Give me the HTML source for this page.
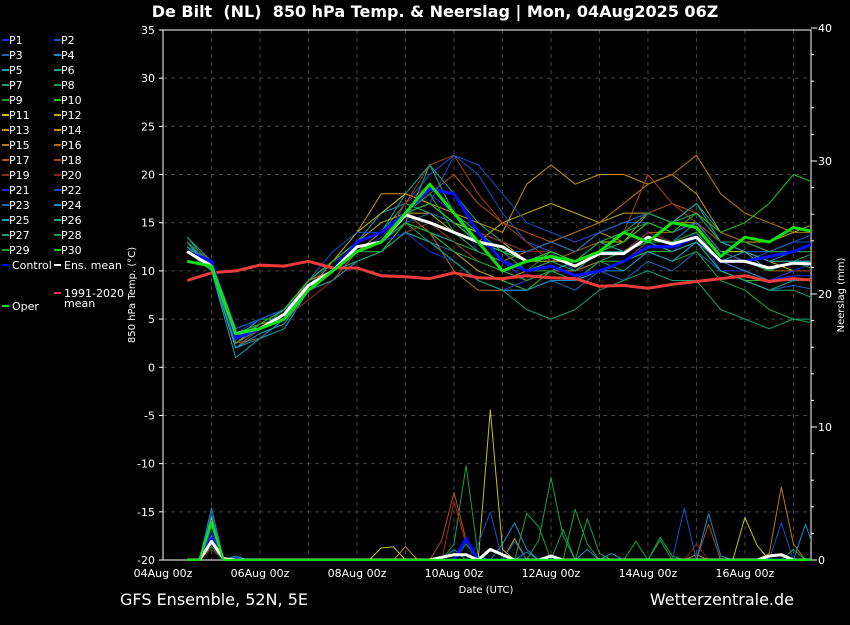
<!DOCTYPE html>
<html><head><meta charset="utf-8"><style>
body{margin:0;background:#000;width:850px;height:620px;overflow:hidden;font-family:"Liberation Sans","DejaVu Sans",sans-serif;}
svg text{font-family:"DejaVu Sans","Liberation Sans",sans-serif;fill:#fff;}
</style></head><body>
<svg id="chart" width="850" height="620" xmlns="http://www.w3.org/2000/svg">
<rect width="850" height="620" fill="#000"/>
<text x="435" y="17" text-anchor="middle" font-size="16" font-weight="bold" xml:space="preserve">De Bilt  (NL)  850 hPa Temp. &amp; Neerslag | Mon, 04Aug2025 06Z</text>
<g id="grid"></g>
<g id="axes"></g>
<g id="series" clip-path="url(#clip)"></g>
<defs><clipPath id="clip"><rect x="163" y="30" width="648" height="531"/></clipPath></defs>
<g id="legend"></g>
<text x="0" y="0" transform="translate(135,295) rotate(-90)" text-anchor="middle" font-size="10">850 hPa Temp. (°C)</text>
<text x="0" y="0" transform="translate(844,295) rotate(-90)" text-anchor="middle" font-size="10">Neerslag (mm)</text>
<text x="486" y="593" text-anchor="middle" font-size="10">Date (UTC)</text>
<text x="120" y="605" font-size="16">GFS Ensemble, 52N, 5E</text>
<text x="794" y="605" text-anchor="end" font-size="16">Wetterzentrale.de</text>
</svg>
<script>
// ---- data ----
const tempHours=[12,24,36,48,60,72,84,96,108,120,132,144,156,168,180,192,204,216,228,240,252,264,276,288,300,312,324];
const xTickLabels=["04Aug 00z","06Aug 00z","08Aug 00z","10Aug 00z","12Aug 00z","14Aug 00z","16Aug 00z"];
const xTickHours=[0,48,96,144,192,240,288];
const yTicks=[35,30,25,20,15,10,5,0,-5,-10,-15,-20];
const y2Ticks=[0,10,20,30,40];
const memberNames=["P1","P2","P3","P4","P5","P6","P7","P8","P9","P10","P11","P12","P13","P14","P15","P16","P17","P18","P19","P20","P21","P22","P23","P24","P25","P26","P27","P28","P29","P30"];
const memberColors=["#1a2ee0","#1450c8","#1468c0","#1490c8","#14a8b8","#14a890","#14a070","#14a050","#14a830","#20c020","#c8c010","#c0a810","#c09810","#c08810","#c07810","#b86810","#b05018","#a84018","#982818","#902020","#1a2ee0","#1450c8","#1468c0","#1490c8","#14a8b8","#14a890","#14a070","#14a050","#14a830","#20c020"];
const P1=[12.5,10,3,4.5,5,8,10,12,13.5,16,18,16,12,11,9,10,9,10,11,13,12,14,10,10,9,9.5,9.5];
const P2=[12,10.8,4,5,6,8.5,11,13,14,17,20,22,20,16,13,12,10,12,13,15,14,15,12,11,12,13,14];
const P3=[13,10,2.5,4,5,9,10,12,12,14,13,12,10,9,8,9,8,10,9,11,10,12,10,9,8,8.5,8];
const P4=[12.5,11,4,5,6,9,11,13,16,17,16,14,13,12,11,12,11,12,12,14,13,15,12,12,11,12,12];
const P5=[13,10,1,3,4,8,10,11,12,15,14,13,11,10,9,10,11,13,12,14,13,14,11,12,10,11,11];
const P6=[13.5,10.5,3,5,6,9,10,12,14,18,21,18,15,13,12,13,12,14,15,16,15,17,14,13,12,13,13];
const P7=[13,11,2,4,5,8,10,12,13,15,13,11,9,8,8,9,9,10,11,12,11,13,10,9,8,8,7];
const P8=[12.5,10.2,3,4,6,9,10,13,14,17,16,15,14,13,12,13,12,13,14,15,14,15,12,12,11,11,12];
const P9=[12,10,3,4,5,8,9,12,12,14,15,13,12,11,10,10,9,11,10,12,11,12,9,8,6,5,4.5];
const P10=[12.5,11,4,5,5,8,9,11,12,15,14,12,10,9,8,10,10,11,11,12,12,13,10,9,9,9,9];
const P11=[12,10.5,3,4,6,9,11,14,16,18,17,15,14,13,11,11,11,13,13,15,14,15,12,12,11,10,10];
const P12=[12.5,10,3,4,6,9,10,13,15,16,16,14,13,15,16,17,16,15,16,16,15,15,13,13,13,14,15];
const P13=[13,11,2.5,4,5,8,11,14,18,18,17,16,15,14,19,21,19,20,20,19,20,18,14,13,12,13,13];
const P14=[12,10,3,4,6,9,10,12,13,15,14,12,10,9,10,11,12,14,13,16,15,16,13,13,12,12,13];
const P15=[12.5,10.5,2.5,4.5,5,8,10,12,14,16,15,14,12,11,12,13,14,15,17,19,20,22,18,16,15,14,14];
const P16=[12,10.5,3,4,5.5,9,10,12,13,16,14,10,8,8,9,10,10,11,12,14,14,15,12,11,10,10,10];
const P17=[12.5,10,2.5,3,5,8,10,12,13,16,18,20,17,15,14,13,12,14,15,16,17,16,14,13,12,12,12];
const P18=[13,10.5,2,4,5.5,8,9,12,13,17,21,22,18,15,13,11,12,13,14,20,17,15,13,12,11,11,11];
const P19=[12.5,10.5,3,4,5,7,9,11,12,14,15,13,11,10,9,10,9,10,11,13,12,13,11,10,9,10,10];
const P20=[13,11,3,4,5,8,10,12,13,17,19,16,14,13,12,12,11,12,12,14,13,14,12,11,10,11,10];
const P21=[12,10.5,3.5,5,6,9,11,12,13,14,12,11,9,8,9,10,9,11,12,13,12,13,11,10,9,10,11];
const P22=[12.5,11,4,5,6,9,12,14,14,16,17,22,21,18,15,14,13,14,15,16,15,16,13,12,12,13,13];
const P23=[13,10,3,4,6,8,10,12,13,15,16,15,13,12,12,13,12,14,15,15,14,15,12,11,10,11,11];
const P24=[12.5,10,2,3,5,8,9,11,12,14,13,11,9,8,8,9,9,10,10,12,11,13,11,10,9,9,9];
const P25=[13,10,2,3.5,4.5,8,10,12,13,16,17,15,13,12,11,12,11,13,14,16,15,17,13,12,11,11,11];
const P26=[13.5,11,3,4,5,8,10,12,13,15,21,16,14,12,10,11,10,12,12,13,12,13,10,9,8,9,9];
const P27=[13,10.5,2.5,4,5,8,10,11,12,14,13,11,9,8,6,5,6,8,9,10,9,9,6,5,4,5,5];
const P28=[12.5,10.5,3,4.5,6,9,11,13,14,16,18,14,12,11,10,12,11,13,14,16,15,16,13,13,12,12,12];
const P29=[12,10,3,4,5,8,10,12,13,15,14,12,11,10,9,10,9,11,12,13,13,14,11,11,10,11,10];
const P30=[12,10.5,3.5,4.5,6,9,11,13,14,16,17,15,13,12,11,12,11,12,13,15,14,16,14,15,17,20,19];
const members=[P1,P2,P3,P4,P5,P6,P7,P8,P9,P10,P11,P12,P13,P14,P15,P16,P17,P18,P19,P20,P21,P22,P23,P24,P25,P26,P27,P28,P29,P30];
const controlTemp=[12,11,3,4,5,8.5,10,13,14,16,18.5,18,14,11,10,10.5,9.5,10,11,12.5,12.5,13.5,11,11,11.5,12,13];
const operTemp=[11,10.5,3.5,4,5,8,10,12,13,16,19,16,13,10,11,11.5,11,12,14,13,15,14.5,11.5,13.5,13,14.5,14];
const meanTemp=[12,10.5,3.5,4,5.5,8.5,10,12.5,13,15.8,15,14,13,12.5,11,11.5,10.5,11.8,11.8,13.5,12.8,13.5,11,11,10.3,10.8,10.7];
const climTemp=[9,9.8,10,10.6,10.5,11,10.3,10.3,9.5,9.4,9.2,9.8,9.3,9.2,9.5,9.3,9.2,8.4,8.5,8.2,8.6,8.9,9.2,9.5,8.9,9.2,9];
// precipitation: [hour, mm] pairs (zero elsewhere, 6-hourly)
const precipP1=[[24,2.2],[36,0.2]];
const precipP4=[[24,3.9],[36,0.3],[168,1.2],[174,2.8],[180,0.8]];
const precipP8=[[24,1.5],[144,1.2],[150,7.1],[156,0.3],[186,1.5],[192,6.2],[198,1.8]];
const precipP9=[[24,2.6],[180,3.5],[186,2.5],[204,3.8],[210,1.2],[234,1.4],[246,1.5]];
const precipP11=[[24,3.2],[108,0.9],[114,1.0],[162,11.3],[168,0.8],[288,3.2],[294,1.1]];
const precipP13=[[24,2.8],[120,1.0],[174,1.6]];
const precipP15=[[24,1.8],[264,0.4],[300,0.5],[306,5.5],[312,1.2]];
const precipP17=[[24,1.2],[138,1.5],[144,5.1],[150,1.5],[270,2.7]];
const precipP19=[[24,0.8],[144,4.4],[150,1.2],[264,1.2]];
const precipP22=[[24,1.9],[156,1.2],[162,3.6],[174,1.4],[258,3.9],[306,2.8]];
const precipP24=[[24,3.4],[144,0.8],[180,0.6],[210,0.8],[222,0.5],[270,3.5],[276,0.3],[318,2.7]];
const precipP28=[[24,1.0],[150,1.2],[198,2.3],[210,3.1],[216,0.5],[246,1.7],[252,0.3],[312,0.8]];
const precipControl=[[24,1.6],[150,1.6]];
const precipOper=[[24,2.8]];
const precipMean=[[24,1.4],[30,0.1],[138,0.2],[144,0.4],[150,0.4],[162,0.8],[168,0.4],[192,0.3],[300,0.3],[306,0.4]];
const precipSeries=[precipP1,precipP4,precipP8,precipP9,precipP11,precipP13,precipP15,precipP17,precipP19,precipP22,precipP24,precipP28];
const precipMemberIdx=[0,3,7,8,10,12,14,16,18,21,23,27];

// ---- scales ----
const X0=163,X1=811,Y0=30,Y1=560;
const xS=h=>X0+h*(X1-X0)/320.7;
const yS=t=>Y1-(t+20)*(Y1-Y0)/55;
const pS=mm=>Y1-mm*(Y1-Y0)/39.85;
const NS="http://www.w3.org/2000/svg";
function mk(tag,attrs,parent){const e=document.createElementNS(NS,tag);for(const k in attrs)e.setAttribute(k,attrs[k]);parent.appendChild(e);return e;}
const grid=document.getElementById('grid'),axes=document.getElementById('axes'),ser=document.getElementById('series'),leg=document.getElementById('legend');

// grid
for(let d=1;d<=13;d++){const x=xS(d*24);if(x>=X1)break;
 const l=mk('line',{x1:x,x2:x,y1:Y0,y2:Y1,stroke:'#444',"stroke-dasharray":'4,4'},grid);
 }
yTicks.forEach(t=>{const y=yS(t);
 const l=mk('line',{x1:X0,x2:X1,y1:y,y2:y,stroke:'#444',"stroke-dasharray":'4,4'},grid);
 
 const tx=mk('text',{x:155,y:y+4,"text-anchor":'end',"font-size":11},axes);tx.textContent=t;
 
 mk('line',{x1:X0-4,x2:X0,y1:y,y2:y,stroke:'#fff'},axes);});
for(let v=0;v<=40;v+=2){const y=pS(v);mk('line',{x1:X1,x2:X1+(v%10==0?6:3),y1:y,y2:y,stroke:'#fff'},axes);}
y2Ticks.forEach(v=>{const y=pS(v);const tx=mk('text',{x:818,y:y+4,"font-size":11},axes);tx.textContent=v;
 });
xTickHours.forEach((h,i)=>{const tx=mk('text',{x:xS(h),y:577,"text-anchor":'middle',"font-size":11},axes);tx.textContent=xTickLabels[i];
 });
const frame=mk('rect',{x:X0,y:Y0,width:X1-X0,height:Y1-Y0,fill:'none',stroke:'#fff',"stroke-width":1},axes);


function tempLine(arr,color,w,name){const pts=arr.map((v,i)=>xS(tempHours[i]).toFixed(1)+','+yS(v).toFixed(1)).join(' ');
 const p=mk('polyline',{points:pts,fill:'none',stroke:color,"stroke-width":w,"stroke-linejoin":'round'},ser);
 }
function precipLine(pairs,color,w,name){const vals={};pairs.forEach(p=>vals[p[0]]=p[1]);const pts=[];
 for(let h=12;h<=324;h+=6){pts.push(xS(h).toFixed(1)+','+pS(vals[h]||0).toFixed(1));}
 const p=mk('polyline',{points:pts.join(' '),fill:'none',stroke:color,"stroke-width":w,"stroke-linejoin":'round'},ser);
 }

members.forEach((m,i)=>tempLine(m,memberColors[i],1,'temp-'+memberNames[i].toLowerCase()));
precipSeries.forEach((s,i)=>precipLine(s,memberColors[precipMemberIdx[i]],1,'precip-'+memberNames[precipMemberIdx[i]].toLowerCase()));
precipLine(precipControl,'#0010ff',3,'precip-control');
precipLine(precipMean,'#fff',3,'precip-ens-mean');
precipLine(precipOper,'#10e010',2.5,'precip-oper');
tempLine(climTemp,'#ee3a3a',3,'temp-climate-mean');
tempLine(controlTemp,'#0010ff',3,'temp-control');
tempLine(meanTemp,'#fff',3,'temp-ens-mean');
tempLine(operTemp,'#10e010',3,'temp-oper');

// legend
memberNames.forEach((n,i)=>{const col=i%2,row=Math.floor(i/2);const x=col?54:2,y=40+row*15;
 const g=mk('g',{},leg);
 mk('line',{x1:x,x2:x+7,y1:y,y2:y,stroke:memberColors[i],"stroke-width":2},g);
 const t=mk('text',{x:x+7,y:y+4,"font-size":11},g);t.textContent=n;});
[["Control","#0010ff",2,265],["Ens. mean","#fff",54,265],["Oper","#10e010",2,306],["1991-2020","#ee3a3a",54,293]].forEach(e=>{
 const g=mk('g',{},leg);
 mk('line',{x1:e[2],x2:e[2]+7,y1:e[3],y2:e[3],stroke:e[1],"stroke-width":2},g);
 const t=mk('text',{x:e[2]+10,y:e[3]+4,"font-size":11},g);t.textContent=e[0];});
const mt=mk('text',{x:64,y:307,"font-size":11},leg);mt.textContent='mean';

</script>
</body></html>
